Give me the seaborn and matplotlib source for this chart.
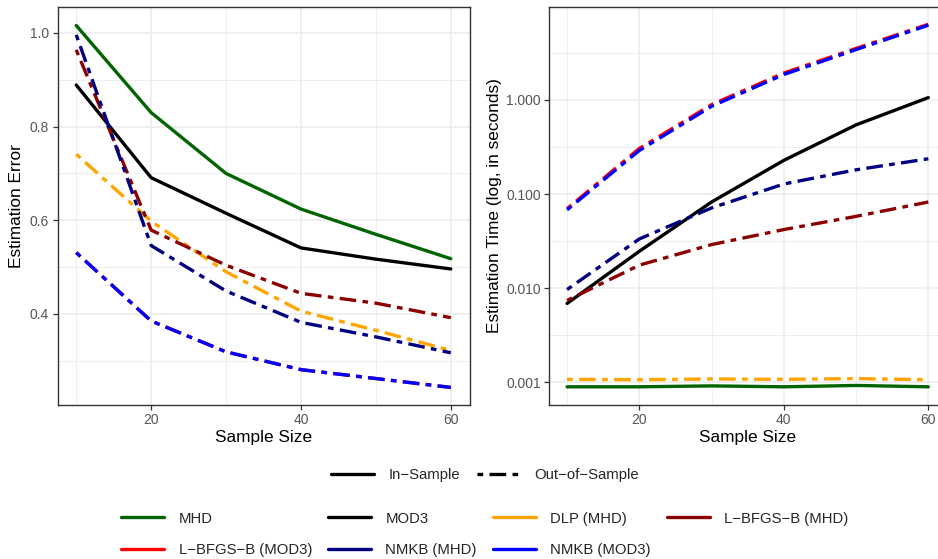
import numpy as np
import pandas as pd
import matplotlib
matplotlib.use("Agg")
import matplotlib.pyplot as plt
from matplotlib.lines import Line2D
from matplotlib.ticker import FixedLocator, FuncFormatter, NullFormatter
import seaborn as sns

# ---- data -------------------------------------------------------------
sample_size = [10, 20, 30, 40, 50, 60]

methods = ["MHD", "MOD3", "DLP (MHD)", "L\u2212BFGS\u2212B (MHD)",
           "L\u2212BFGS\u2212B (MOD3)", "NMKB (MHD)", "NMKB (MOD3)"]
colors = ["darkgreen", "black", "orange", "darkred", "red", "navy", "blue"]
sample_type = ["In\u2212Sample", "In\u2212Sample", "Out\u2212of\u2212Sample",
               "Out\u2212of\u2212Sample", "Out\u2212of\u2212Sample",
               "Out\u2212of\u2212Sample", "Out\u2212of\u2212Sample"]

# estimation error
err_mhd = [1.016, 0.830, 0.700, 0.624, 0.570, 0.518]
err_mod3 = [0.889, 0.691, 0.615, 0.541, 0.517, 0.496]
err_dlp_mhd = [0.741, 0.598, 0.490, 0.406, 0.365, 0.322]
err_lbfgs_mhd = [0.964, 0.579, 0.504, 0.444, 0.423, 0.392]
err_lbfgs_mod3 = [0.531, 0.385, 0.319, 0.281, 0.262, 0.243]
err_nmkb_mhd = [0.996, 0.546, 0.449, 0.382, 0.351, 0.317]
err_nmkb_mod3 = [0.531, 0.385, 0.319, 0.281, 0.262, 0.243]

# estimation time (seconds)
time_mhd = [0.00090, 0.00090, 0.00092, 0.00090, 0.00093, 0.00090]
time_mod3 = [0.0069, 0.0247, 0.0824, 0.228, 0.543, 1.057]
time_dlp_mhd = [0.00108, 0.00107, 0.00109, 0.00108, 0.00110, 0.00107]
time_lbfgs_mhd = [0.00743, 0.0176, 0.0291, 0.0420, 0.0580, 0.0824]
time_lbfgs_mod3 = [0.0700, 0.305, 0.890, 1.93, 3.52, 6.35]
time_nmkb_mhd = [0.0097, 0.0334, 0.0713, 0.128, 0.181, 0.237]
time_nmkb_mod3 = [0.0680, 0.290, 0.855, 1.86, 3.42, 6.20]

errors = [err_mhd, err_mod3, err_dlp_mhd, err_lbfgs_mhd,
          err_lbfgs_mod3, err_nmkb_mhd, err_nmkb_mod3]
times = [time_mhd, time_mod3, time_dlp_mhd, time_lbfgs_mhd,
         time_lbfgs_mod3, time_nmkb_mhd, time_nmkb_mod3]

rows = []
for m, st, e, t in zip(methods, sample_type, errors, times):
    for n, ev, tv in zip(sample_size, e, t):
        rows.append({"Method": m, "Type": st, "n": n, "error": ev, "time": tv})
df = pd.DataFrame(rows)

# ---- style ------------------------------------------------------------
sns.set_theme(style="white")
plt.rcParams["font.family"] = ["Liberation Sans", "DejaVu Sans"]

palette = dict(zip(methods, colors))
dotdash = (1.7, 1.9, 5.0, 1.9)
dash_map = {"In\u2212Sample": "", "Out\u2212of\u2212Sample": dotdash}
LW = 2.4

W, H = 938, 559
fig = plt.figure(figsize=(W / 100, H / 100), dpi=100)
ax1 = fig.add_axes([57.5 / W, (H - 405) / H, (469.5 - 57.5) / W, 398 / H])
ax2 = fig.add_axes([549 / W, (H - 405) / H, (946.4 - 549) / W, 398 / H])

for ax, col in [(ax1, "error"), (ax2, "time")]:
    sns.lineplot(data=df, x="n", y=col, hue="Method", style="Type",
                 hue_order=methods, palette=palette, dashes=dash_map,
                 linewidth=LW, legend=False, ax=ax)

ax2.set_yscale("log")

grid_c = "#EBEBEB"
for ax in (ax1, ax2):
    ax.set_xlim(7.5, 62.5)
    ax.xaxis.set_major_locator(FixedLocator([20, 40, 60]))
    ax.xaxis.set_minor_locator(FixedLocator([10, 30, 50]))
    ax.grid(True, which="major", color=grid_c, linewidth=1.1)
    ax.grid(True, which="minor", color=grid_c, linewidth=0.6)
    ax.set_axisbelow(True)
    for s in ax.spines.values():
        s.set_color("#333333")
        s.set_linewidth(1.0)
    ax.tick_params(axis="both", which="major", length=3.5, width=0.9,
                   color="#333333", labelcolor="#555555", labelsize=10,
                   pad=2.5, bottom=True, left=True)
    ax.tick_params(axis="both", which="minor", length=0)
    ax.set_xlabel("Sample Size", fontsize=12.4, color="black", labelpad=2)

ax1.set_ylim(0.2055, 1.0555)
ax1.yaxis.set_major_locator(FixedLocator([0.4, 0.6, 0.8, 1.0]))
ax1.yaxis.set_minor_locator(FixedLocator([0.3, 0.5, 0.7, 0.9]))
ax1.yaxis.set_major_formatter(FuncFormatter(lambda v, p: f"{v:.1f}"))
ax1.set_ylabel("Estimation Error", fontsize=12.4, color="black", labelpad=4)

ax2.set_ylim(10 ** -3.239, 10 ** 0.986)
ax2.yaxis.set_major_locator(FixedLocator([0.001, 0.01, 0.1, 1.0]))
ax2.yaxis.set_minor_locator(FixedLocator([10 ** -2.5, 10 ** -1.5,
                                          10 ** -0.5, 10 ** 0.5]))
ax2.yaxis.set_major_formatter(FuncFormatter(lambda v, p: f"{v:.3f}"))
ax2.yaxis.set_minor_formatter(NullFormatter())
ax2.set_ylabel("Estimation Time (log, in seconds)", fontsize=12.4,
               color="black", labelpad=3)

# ---- legends ----------------------------------------------------------
type_handles = [
    Line2D([], [], color="black", linewidth=LW),
    Line2D([], [], color="black", linewidth=LW, dashes=dotdash),
]
fig.legend(type_handles, ["In\u2212Sample", "Out\u2212of\u2212Sample"],
           loc="center", bbox_to_anchor=(485 / W, (H - 475) / H), ncol=2,
           frameon=False, fontsize=10.7, handlelength=2.9, handletextpad=1.0,
           columnspacing=1.1)

order = [0, 4, 1, 5, 2, 6, 3]
col_handles = [Line2D([], [], color=colors[i], linewidth=LW) for i in order]
col_labels = [methods[i] for i in order]
fig.legend(col_handles, col_labels, loc="center",
           bbox_to_anchor=(485 / W, (H - 534.5) / H), ncol=4, frameon=False,
           fontsize=10.7, handlelength=2.9, handletextpad=0.95,
           columnspacing=1.1, labelspacing=1.2)

fig.savefig("out.png", dpi=100, facecolor="white")
